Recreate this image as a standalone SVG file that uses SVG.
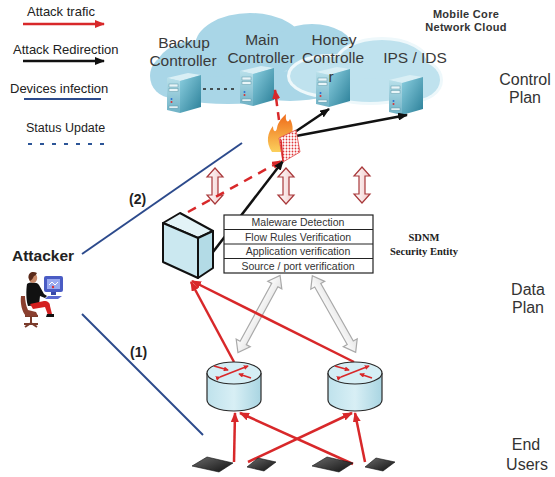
<svg xmlns="http://www.w3.org/2000/svg" width="555" height="477" viewBox="0 0 555 477">
  <defs>
    <style>
      .lbl { font-family: "Liberation Sans", Arial, sans-serif; fill: #333; }
      .leg { font-family: "Liberation Sans", Arial, sans-serif; font-size: 13px; fill: #222; }
      .ctl { font-family: "Liberation Sans", Arial, sans-serif; font-size: 15.5px; fill: #3a3a3a; text-anchor: middle; }
      .plane { font-family: "Liberation Sans", Arial, sans-serif; font-size: 16px; fill: #333; text-anchor: middle; }
      .tbl { font-family: "Liberation Sans", Arial, sans-serif; font-size: 10.5px; fill: #333; text-anchor: middle; }
      .red { stroke: #d8282a; stroke-width: 2.5; fill: none; }
      .blk { stroke: #111; stroke-width: 2.5; fill: none; }
      .blue { stroke: #2c4a8c; stroke-width: 2; fill: none; }
      .dbl { fill: url(#pinkGrad); stroke: #a8383a; stroke-width: 1.2; }
      .gry { fill: url(#grayGrad); stroke: #a9a9a9; stroke-width: 1.2; }
    </style>
    <marker id="hRed" viewBox="0 0 10 8" refX="9" refY="4" markerWidth="10" markerHeight="8" markerUnits="userSpaceOnUse" orient="auto">
      <path d="M0,0 L10,4 L0,8 Z" fill="#d8282a"/>
    </marker>
    <marker id="hBlk" viewBox="0 0 10 8" refX="9" refY="4" markerWidth="10" markerHeight="8" markerUnits="userSpaceOnUse" orient="auto">
      <path d="M0,0 L10,4 L0,8 Z" fill="#111"/>
    </marker>
    <marker id="hSmall" viewBox="0 0 6 6" refX="5" refY="3" markerWidth="5" markerHeight="5" markerUnits="userSpaceOnUse" orient="auto">
      <path d="M0,0 L6,3 L0,6 Z" fill="#d8282a"/>
    </marker>
    <linearGradient id="sideGrad" x1="0" y1="0" x2="1" y2="1">
      <stop offset="0" stop-color="#8ccfe0"/>
      <stop offset="1" stop-color="#2a7f98"/>
    </linearGradient>
    <linearGradient id="frontGrad" x1="0" y1="0" x2="0" y2="1">
      <stop offset="0" stop-color="#b9e0ea"/>
      <stop offset="1" stop-color="#6fb2c6"/>
    </linearGradient>
    <linearGradient id="pinkGrad" x1="0" y1="0" x2="1" y2="0">
      <stop offset="0" stop-color="#ffffff"/>
      <stop offset="1" stop-color="#f1c9c9"/>
    </linearGradient>
    <linearGradient id="grayGrad" x1="0" y1="0" x2="1" y2="0">
      <stop offset="0" stop-color="#ffffff"/>
      <stop offset="1" stop-color="#e4e4e4"/>
    </linearGradient>
    <linearGradient id="cylGrad" x1="0" y1="0" x2="1" y2="0">
      <stop offset="0" stop-color="#bfe2ec"/>
      <stop offset="0.5" stop-color="#d8eff5"/>
      <stop offset="1" stop-color="#a9d5e2"/>
    </linearGradient>
    <linearGradient id="flameGrad" x1="0" y1="1" x2="0" y2="0">
      <stop offset="0" stop-color="#fbd05c"/>
      <stop offset="1" stop-color="#ef6a1a"/>
    </linearGradient>
    <linearGradient id="devGrad" x1="0" y1="0" x2="1" y2="1">
      <stop offset="0" stop-color="#6a6a6a"/>
      <stop offset="1" stop-color="#111"/>
    </linearGradient>
    <pattern id="brick" width="3" height="3" patternUnits="userSpaceOnUse">
      <rect width="3" height="3" fill="#fff"/>
      <circle cx="1.5" cy="1.5" r="0.9" fill="#e0383a"/>
    </pattern>
    <!-- tower server -->
    <symbol id="server" viewBox="0 0 34 40" overflow="visible">
      <polygon points="0,5 21,0 34,2 13,8" fill="#d9eff5"/>
      <polygon points="13,8 34,2 34,34 13,40" fill="url(#sideGrad)"/>
      <polygon points="0,5 13,8 13,40 0,37" fill="url(#frontGrad)"/>
      <rect x="2" y="11" width="9" height="3" fill="#e8f5f8" stroke="#5d97a8" stroke-width="0.5"/>
      <rect x="2" y="15.5" width="9" height="3" fill="#e8f5f8" stroke="#5d97a8" stroke-width="0.5"/>
      <circle cx="4.5" cy="26" r="1" fill="#2a6fd0"/>
      <circle cx="4.5" cy="29" r="1" fill="#d83030"/>
      <rect x="2" y="33" width="9" height="2.2" fill="#e8f5f8" stroke="#5d97a8" stroke-width="0.5"/>
    </symbol>
    <!-- hollow vertical double arrow -->
    <polygon id="dblArrow" points="0,-18 8,-9 3,-9 3,9 8,9 0,18 -8,9 -3,9 -3,-9 -8,-9"/>
    <polygon id="longArrow" points="0,-44 8,-33 3.5,-33 3.5,33 8,33 0,44 -8,33 -3.5,33 -3.5,-33 -8,-33"/>
    <!-- router icon -->
    <g id="routerIcon">
      <path d="M-27,0 L-27,27 A27,11 0 0 0 27,27 L27,0" fill="url(#cylGrad)" stroke="#2a2a2a" stroke-width="1.2"/>
      <ellipse cx="0" cy="0" rx="27" ry="11" fill="#d5eef5" stroke="#2a2a2a" stroke-width="1.2"/>
      <line x1="-14" y1="4" x2="14" y2="-7" stroke="#d8282a" stroke-width="1.6" marker-end="url(#hSmall)" marker-start="url(#hSmall)"/>
      <line x1="-20" y1="-7" x2="-6" y2="-3" stroke="#d8282a" stroke-width="1.6" marker-end="url(#hSmall)"/>
      <line x1="17" y1="5" x2="5" y2="1" stroke="#d8282a" stroke-width="1.6" marker-end="url(#hSmall)"/>
    </g>
  </defs>

  <rect width="555" height="477" fill="#fff"/>

  <!-- legend -->
  <g id="legend">
    <text class="leg" x="27" y="16">Attack trafic</text>
    <line x1="23" y1="24" x2="104" y2="24" class="red" marker-end="url(#hRed)"/>
    <text class="leg" x="13" y="54">Attack Redirection</text>
    <line x1="23" y1="61" x2="104" y2="61" class="blk" marker-end="url(#hBlk)"/>
    <text class="leg" x="10" y="93">Devices infection</text>
    <line x1="24" y1="99" x2="101" y2="99" stroke="#2c4a8c" stroke-width="2.2"/>
    <text class="leg" x="26" y="132" style="font-size:12.5px">Status Update</text>
    <line x1="28" y1="144" x2="108" y2="144" stroke="#2c5597" stroke-width="2" stroke-dasharray="4 8"/>
  </g>

  <!-- mobile core cloud -->
  <g id="cloud">
    <g fill="#a9d6e7">
      <ellipse cx="200" cy="70" rx="45" ry="30"/>
      <ellipse cx="250" cy="46" rx="55" ry="33"/>
      <ellipse cx="172" cy="76" rx="22" ry="22"/>
      <ellipse cx="228" cy="90" rx="62" ry="14"/>
      <ellipse cx="312" cy="50" rx="42" ry="26"/>
      <ellipse cx="290" cy="86" rx="50" ry="15"/>
    </g>
    <g fill="none" stroke="#eef8fb" stroke-width="6">
      <ellipse cx="330" cy="76" rx="40" ry="19"/>
      <ellipse cx="382" cy="64" rx="45" ry="24"/>
      <ellipse cx="412" cy="80" rx="28" ry="20"/>
      <ellipse cx="370" cy="90" rx="42" ry="12"/>
    </g>
    <g fill="#bfe2ee">
      <ellipse cx="330" cy="76" rx="40" ry="19"/>
      <ellipse cx="382" cy="64" rx="45" ry="24"/>
      <ellipse cx="412" cy="80" rx="28" ry="20"/>
      <ellipse cx="370" cy="90" rx="42" ry="12"/>
    </g>
    <text class="lbl" x="466" y="18" text-anchor="middle" style="font-size:11px;font-weight:bold;letter-spacing:0.3px">Mobile Core</text>
    <text class="lbl" x="466" y="31" text-anchor="middle" style="font-size:11px;font-weight:bold;letter-spacing:0.3px">Network  Cloud</text>
  </g>

  <!-- controllers -->
  <g id="backup-controller">
    <text class="ctl" x="184" y="48">Backup</text>
    <text class="ctl" x="183" y="66">Controller</text>
    <use href="#server" x="167" y="73" width="34" height="40"/>
  </g>
  <g id="main-controller">
    <text class="ctl" x="262" y="45">Main</text>
    <text class="ctl" x="261" y="63">Controller</text>
    <use href="#server" x="240" y="66" width="34" height="40"/>
  </g>
  <g id="honey-controller">
    <use href="#server" x="316" y="67" width="34" height="40"/>
    <text class="ctl" x="334" y="45">Honey</text>
    <text class="ctl" x="333" y="63">Controlle</text>
    <text class="ctl" x="331" y="82">r</text>
  </g>
  <g id="ips-ids">
    <text class="ctl" x="415" y="63">IPS / IDS</text>
    <use href="#server" x="389" y="75" width="34" height="40"/>
  </g>
  <line x1="203" y1="89" x2="237" y2="89" stroke="#222" stroke-width="1.6" stroke-dasharray="3 4"/>

  <!-- plane labels -->
  <g id="planes">
    <text class="plane" x="525" y="85">Control</text>
    <text class="plane" x="525" y="103">Plan</text>
    <text class="plane" x="528" y="295">Data</text>
    <text class="plane" x="528" y="313">Plan</text>
    <text class="plane" x="526" y="450">End</text>
    <text class="plane" x="527" y="470">Users</text>
  </g>

  <!-- status exchange arrows -->
  <g id="status-arrows">
    <use href="#dblArrow" class="dbl" transform="translate(215,186)"/>
    <use href="#dblArrow" class="dbl" transform="translate(286,186)"/>
    <use href="#dblArrow" class="dbl" transform="translate(362,185)"/>
    <use href="#longArrow" class="gry" transform="translate(259,314) rotate(28.6)"/>
    <use href="#longArrow" class="gry" transform="translate(334,314) rotate(-29.5)"/>
  </g>

  <!-- connectors -->
  <g id="connectors">
    <line x1="82" y1="254" x2="242" y2="143" class="blue"/>
    <line x1="82" y1="314" x2="203" y2="435" class="blue"/>
    <line x1="279" y1="120" x2="275" y2="90" class="red" stroke-dasharray="8 6" marker-end="url(#hRed)"/>
    <line x1="188" y1="212" x2="281" y2="161" class="red" stroke-dasharray="9 7" marker-end="url(#hRed)"/>
    <line x1="213" y1="252" x2="283" y2="161" class="blk" marker-end="url(#hBlk)"/>
    <line x1="286" y1="138" x2="329" y2="109" class="blk" marker-end="url(#hBlk)"/>
    <line x1="296" y1="136" x2="407" y2="115" class="blk" marker-end="url(#hBlk)"/>
    <line x1="234" y1="362" x2="191" y2="282" class="red" marker-end="url(#hRed)"/>
    <line x1="354" y1="362" x2="192" y2="281" class="red" marker-end="url(#hRed)"/>
    <line x1="234" y1="462" x2="235" y2="413" class="red" marker-end="url(#hRed)"/>
    <line x1="248" y1="462" x2="352" y2="413" class="red" marker-end="url(#hRed)"/>
    <line x1="353" y1="464" x2="240" y2="413" class="red" marker-end="url(#hRed)"/>
    <line x1="365" y1="462" x2="355" y2="413" class="red" marker-end="url(#hRed)"/>
  </g>

  <!-- firewall -->
  <g id="firewall">
    <path d="M272,152 C265,142 268,132 273,126 C273,132 276,133 277,128 C278,122 282,118 286,114 C285,121 288,124 290,119 C294,126 293,133 290,138 L282,152 Z" fill="url(#flameGrad)"/>
    <polygon points="279,138 296,130 300,152 283,162" fill="url(#brick)" stroke="#e04848" stroke-width="0.8"/>
    <line x1="281" y1="140" x2="283" y2="161" stroke="#d8282a" stroke-width="1.5"/>
  </g>

  <!-- SDNM security entity -->
  <g id="security-entity">
    <polygon points="163,223 180,213 213,231 198,238" fill="#e3f3f7" stroke="#111" stroke-width="2" stroke-linejoin="round"/>
    <polygon points="198,238 213,231 213,268 198,278" fill="#b3dbe6" stroke="#111" stroke-width="2" stroke-linejoin="round"/>
    <polygon points="163,223 198,238 198,278 163,262" fill="#cbe8f0" stroke="#111" stroke-width="2" stroke-linejoin="round"/>
  </g>
  <g id="verification-table">
    <rect x="224" y="215" width="149" height="58" fill="#fff" stroke="#222" stroke-width="1.2"/>
    <line x1="224" y1="229.5" x2="373" y2="229.5" stroke="#222" stroke-width="1"/>
    <line x1="224" y1="244" x2="373" y2="244" stroke="#222" stroke-width="1"/>
    <line x1="224" y1="258.5" x2="373" y2="258.5" stroke="#222" stroke-width="1"/>
    <text class="tbl" x="298" y="226">Maleware Detection</text>
    <text class="tbl" x="298" y="240.5">Flow Rules Verification</text>
    <text class="tbl" x="298" y="255">Application verification</text>
    <text class="tbl" x="298" y="269.5">Source / port verification</text>
    <text x="424" y="241" text-anchor="middle" style="font-family:'Liberation Serif',serif;font-size:10.5px;font-weight:bold;fill:#222">SDNM</text>
    <text x="424" y="255" text-anchor="middle" style="font-family:'Liberation Serif',serif;font-size:10.5px;font-weight:bold;fill:#222">Security Entity</text>
  </g>

  <!-- routers -->
  <g id="router-left"><use href="#routerIcon" transform="translate(234,373)"/></g>
  <g id="router-right"><use href="#routerIcon" transform="translate(355,373)"/></g>

  <!-- end devices -->
  <g id="devices" fill="url(#devGrad)" stroke="#111" stroke-width="0.6">
    <polygon points="192,466 207,457 233,463 219,472"/>
    <polygon points="247,467 258,458 276,462 264,471"/>
    <polygon points="312,466 327,457 353,463 339,472"/>
    <polygon points="365,467 376,458 395,462 383,471"/>
  </g>

  <!-- attacker -->
  <g id="attacker">
    <text class="lbl" x="12" y="261" style="font-size:15.5px;font-weight:bold;fill:#222">Attacker</text>
    <rect x="44" y="276" width="19" height="16" rx="2" fill="#4a5cc4"/>
    <rect x="47" y="279" width="13" height="10" fill="#9aaaf0"/>
    <path d="M49,285 L52,282 L55,285 L58,282" stroke="#fff" stroke-width="1" fill="none"/>
    <circle cx="53" cy="287" r="1.2" fill="#d33"/>
    <rect x="51" y="292" width="5" height="3" fill="#3a4aa8"/>
    <path d="M48,296 L62,296 L58,299 L45,299 Z" fill="#5c6ad0"/>
    <path d="M25,316 L38,316 M31,316 L31,323 M24,324 L38,324 M31,323 L25,327 M31,323 L37,327" stroke="#7a3b2b" stroke-width="2" fill="none"/>
    <path d="M21,296 C20,303 22,312 26,316 L38,316 L36,312 L28,310 C26,306 25,300 25,296 Z" fill="#8a3f2f"/>
    <path d="M27,284 C30,282 37,282 39,285 L44,294 L47,296 L45,298 L40,296 L39,305 L28,306 C26,300 26,290 27,284 Z" fill="#111"/>
    <path d="M30,304 L44,301 C48,301 50,303 50,306 L52,314 L48,315 L45,307 L33,309 Z" fill="#d42020"/>
    <path d="M47,314 L54,314 L54,317 L46,317 Z" fill="#111"/>
    <ellipse cx="33" cy="278" rx="4.2" ry="5" fill="#c98a6a"/>
    <path d="M28.5,278 C28,272 33,271 37,273 C36,275 35,276 34,276 C33,278 32,280 30,281 Z" fill="#5a2a1a"/>
  </g>

  <!-- path labels -->
  <text class="lbl" x="129" y="204" style="font-size:14px;font-weight:bold;fill:#222">(2)</text>
  <text class="lbl" x="130" y="357" style="font-size:14px;font-weight:bold;fill:#222">(1)</text>
</svg>
